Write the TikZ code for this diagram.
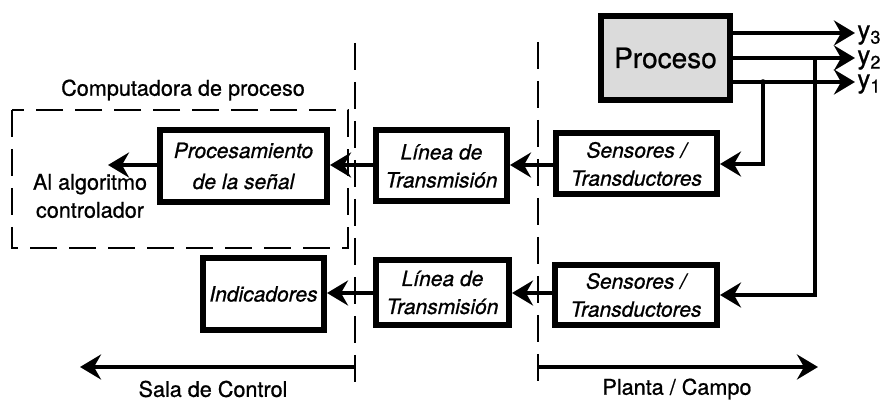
\documentclass[tikz,border=0pt]{standalone}
\usepackage{fontspec}
\setmainfont{TeX Gyre Heros}[FakeBold=0.8]
\usetikzlibrary{arrows.meta}

\tikzset{
  bloque/.style={draw, line width=3pt, align=center, inner sep=0pt,
    font=\fontsize{10.5}{14}\selectfont\itshape},
  flujo/.style={line width=2.2pt, -{Stealth[length=10.5pt,width=12.5pt,inset=3.5pt]}},
  limite/.style={line width=0.75pt, dash pattern=on 13.5pt off 6pt},
  rotulo/.style={align=center, inner sep=0pt, font=\fontsize{10.8}{14}\selectfont},
  salida/.style={anchor=base west, inner sep=0pt, font=\fontsize{13}{12}\selectfont},
}

\begin{document}
\begin{tikzpicture}[x=0.5pt, y=-0.5pt]
  \useasboundingbox (0,0) rectangle (891,401);

  % planta
  \node[bloque, fill=black!14, font=\fontsize{14}{16}\selectfont,
    minimum width=64.5pt, minimum height=42pt] (proc) at (665.5,58) {Proceso};

  % fila de arriba
  \node[bloque, minimum width=80.5pt, minimum height=30.5pt] (sens1) at (636.5,164)
    {Sensores /\\Transductores};
  \node[bloque, minimum width=65.5pt, minimum height=35.5pt] (lin1) at (441.5,166)
    {Línea de\\Transmisión};
  \node[bloque, minimum width=83.5pt, minimum height=36pt,
    font=\fontsize{10.5}{15.5}\selectfont\itshape] (psen) at (243.5,166)
    {Procesamiento\\de la señal};

  % fila de abajo
  \node[bloque, minimum width=81pt, minimum height=30pt] (sens2) at (636,295)
    {Sensores /\\Transductores};
  \node[bloque, minimum width=66.5pt, minimum height=32.5pt] (lin2) at (442.5,292.5)
    {Línea de\\Transmisión};
  \node[bloque, minimum width=60.5pt, minimum height=36pt] (ind) at (263.5,294)
    {Indicadores};

  % salidas y3, y2, y1
  \coordinate (o3) at (855,33);
  \coordinate (o2) at (855,58);
  \coordinate (o1) at (855,82);
  \draw[flujo] (proc.east |- o3) -- (o3);
  \draw[flujo] (proc.east |- o2) -- (o2);
  \draw[flujo] (proc.east |- o1) -- (o1);
  \node[salida] (y3) at (857,39) {y\textsubscript{3}};
  \node[salida] (y2) at (857,64) {y\textsubscript{2}};
  \node[salida] (y1) at (857,88) {y\textsubscript{1}};

  % medicion de y1 y y2
  \coordinate (m1) at (763,82);
  \coordinate (m2) at (815,58);
  \fill (m1) circle (1.4pt);
  \draw[flujo] (m1) |- (sens1.east);
  \draw[flujo] (m2) |- (sens2.east);

  % transmision hacia la sala de control
  \draw[flujo] (sens1.west |- 0,165) -- (lin1.east |- 0,165);
  \draw[flujo] (lin1.west |- 0,165) -- (psen.east |- 0,165);
  \coordinate (alg) at (108,165);
  \draw[flujo] (psen.west |- alg) -- (alg);
  \draw[flujo] (sens2.west |- 0,293) -- (lin2.east |- 0,293);
  \draw[flujo] (lin2.west |- 0,293) -- (ind.east |- 0,293);

  \node[rotulo] (algtxt) at (90,196) {Al algoritmo\\controlador};

  % computadora
  \draw[limite] (12,110) rectangle (348,248);
  \node[rotulo] (comp) at (183,90) {Computadora de proceso};

  % limites entre sala y planta
  \coordinate (ls) at (355,43);
  \coordinate (lp) at (538,42);
  \coordinate (lsb) at (355,393);
  \coordinate (lpb) at (538,391);
  \draw[limite] (ls) -- (lsb);
  \draw[limite] (lp) -- (lpb);

  \coordinate (sala) at (80,367);
  \coordinate (campo) at (818,367);
  \draw[flujo] (ls |- sala) -- (sala);
  \draw[flujo] (lp |- campo) -- (campo);
  \node[rotulo] (salatxt) at (213,389) {Sala de Control};
  \node[rotulo] (campotxt) at (677,389) {Planta / Campo};
\end{tikzpicture}
\end{document}
